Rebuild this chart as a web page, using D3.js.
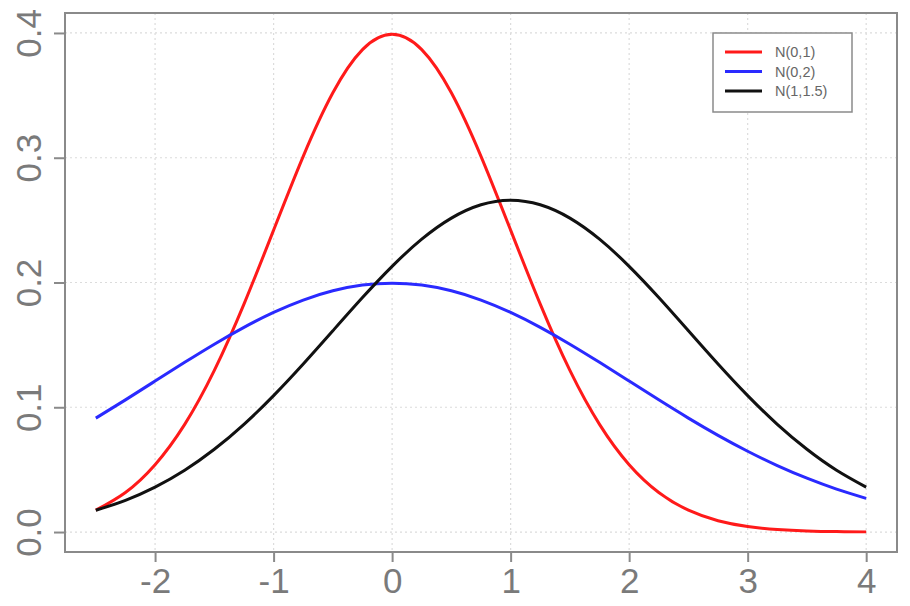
<!DOCTYPE html>
<html><head><meta charset="utf-8">
<script src="https://cdn.jsdelivr.net/npm/d3@7"></script>
<style>body{margin:0;background:#fff}svg{display:block}</style>
</head><body>
<svg id="c" width="910" height="606"></svg>
<script>
const xs = [-2.5,-2.25,-2,-1.75,-1.5,-1.25,-1,-0.75,-0.5,-0.25,0,0.25,0.5,0.75,1,1.25,1.5,1.75,2,2.25,2.5,2.75,3,3.25,3.5,3.75,4];
const n01 = [0.01753,0.03174,0.05399,0.08628,0.12952,0.18265,0.24197,0.30114,0.35207,0.38667,0.39894,0.38667,0.35207,0.30114,0.24197,0.18265,0.12952,0.08628,0.05399,0.03174,0.01753,0.00910,0.00443,0.00203,0.00087,0.00035,0.00013];
const n02 = [0.09132,0.10594,0.12099,0.13603,0.15057,0.16408,0.17603,0.18593,0.19333,0.19792,0.19947,0.19792,0.19333,0.18593,0.17603,0.16408,0.15057,0.13603,0.12099,0.10594,0.09132,0.07751,0.06476,0.05327,0.04314,0.03439,0.02700];
const n115 = [0.01748,0.02543,0.03599,0.04954,0.06632,0.08634,0.10934,0.13467,0.16131,0.18795,0.21297,0.23471,0.25159,0.26229,0.26596,0.26229,0.25159,0.23471,0.21297,0.18795,0.16131,0.13467,0.10934,0.08634,0.06632,0.04954,0.03599];
const seriesNames = ["N(0,1)","N(0,2)","N(1,1.5)"];
const seriesColors = ["#ff1a1a","#2a2aff","#111111"];
const xTicks = [-2,-1,0,1,2,3,4];
const yTicks = [0,0.1,0.2,0.3,0.4];

const svg = d3.select("#c");
const L=65,R=897,T=13,B=552;
const x = d3.scaleLinear().domain([-2.76,4.26]).range([L,R]);
const y = d3.scaleLinear().domain([-0.016,0.416]).range([B,T]);
const grey="#8a8a8a";

// grid
const g = svg.append("g");
g.selectAll(".vx").data(xTicks).join("line")
  .attr("x1",d=>x(d)).attr("x2",d=>x(d)).attr("y1",T).attr("y2",B)
  .attr("stroke","#dcdcdc").attr("stroke-width",1.2).attr("stroke-dasharray","2,3");
g.selectAll(".hy").data(yTicks).join("line")
  .attr("y1",d=>y(d)).attr("y2",d=>y(d)).attr("x1",L).attr("x2",R)
  .attr("stroke","#dcdcdc").attr("stroke-width",1.2).attr("stroke-dasharray","2,3");

// box
svg.append("rect").attr("x",L).attr("y",T).attr("width",R-L).attr("height",B-T)
  .attr("fill","none").attr("stroke",grey).attr("stroke-width",2);

// axes
const xa = svg.append("g").attr("transform",`translate(0,${B})`)
  .call(d3.axisBottom(x).tickValues(xTicks).tickSize(10).tickPadding(4).tickFormat(d=>d));
xa.select(".domain").remove();
xa.selectAll("line").attr("stroke",grey).attr("stroke-width",2);
xa.selectAll("text").attr("fill","#7a7a7a").style("font-family","Liberation Sans, Arial, sans-serif").style("font-size","35px")
  .attr("dy","0.76em");

const ya = svg.append("g").attr("transform",`translate(${L},0)`)
  .call(d3.axisLeft(y).tickValues(yTicks).tickSize(11).tickFormat(d3.format(".1f")));
ya.select(".domain").remove();
ya.selectAll("line").attr("stroke",grey).attr("stroke-width",2);
ya.selectAll("text").attr("fill","#7a7a7a").style("font-family","Liberation Sans, Arial, sans-serif").style("font-size","35px")
  .attr("x",0).attr("dy",0).attr("text-anchor","middle")
  .attr("transform","translate(-24,0) rotate(-90)");

// curves
const line = d3.line().x((d,i)=>x(xs[i])).y(d=>y(d)).curve(d3.curveNatural);
const data=[n01,n02,n115];
svg.append("g").selectAll("path").data(data).join("path")
  .attr("d",line).attr("fill","none")
  .attr("stroke",(d,i)=>seriesColors[i]).attr("stroke-width",3).attr("stroke-linejoin","round");

// legend
const lg = svg.append("g");
lg.append("rect").attr("x",713).attr("y",33).attr("width",139).attr("height",79)
  .attr("fill","#fff").attr("stroke",grey).attr("stroke-width",1.5);
seriesNames.forEach((s,i)=>{
  const yy = 52 + i*19.5;
  lg.append("line").attr("x1",725).attr("x2",762).attr("y1",yy).attr("y2",yy)
    .attr("stroke",seriesColors[i]).attr("stroke-width",3);
  lg.append("text").attr("x",775).attr("y",yy).attr("dy","0.35em").text(s)
    .attr("fill","#666").style("font-family","Liberation Sans, Arial, sans-serif").style("font-size","14.5px");
});
</script>
</body></html>
